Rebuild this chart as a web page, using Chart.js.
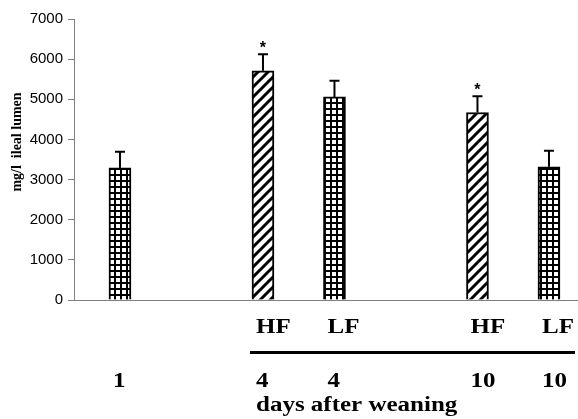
<!DOCTYPE html>
<html>
<head>
<meta charset="utf-8">
<script src="https://cdn.jsdelivr.net/npm/chart.js@4/dist/chart.umd.min.js"></script>
<style>
  html, body { margin: 0; padding: 0; background: #fff; }
  #wrap { width: 578px; height: 419px; }
</style>
</head>
<body>
<div id="wrap"><canvas id="ileum" width="578" height="419"></canvas></div>
<script>
// slots along the x axis (blank slots are the gaps between groups)
const days = ['1', '', '4', '4', '', '10', '10'];
const diets = ['', '', 'HF', 'LF', '', 'HF', 'LF'];
const means = [3290, null, 5710, 5060, null, 4670, 3320];
const sem = [400, null, 415, 400, null, 405, 400];
const signif = [false, false, true, false, false, true, false];
const yTicks = [0, 1000, 2000, 3000, 4000, 5000, 6000, 7000];
const xTitle = 'days after weaning';
const yTitle = 'mg/l  ileal lumen';

const SERIF = '"Liberation Serif", "Times New Roman", serif';
const STRETCH = 1.25;

// fill patterns: grid for LF / day 1, diagonal hatch for HF
function makeGrid() {
    const c = document.createElement('canvas');
    c.width = 6; c.height = 6;
    const g = c.getContext('2d');
    g.fillStyle = '#fff';
    g.fillRect(0, 0, 6, 6);
    g.fillStyle = '#000';
    g.fillRect(0, 0, 2, 6);
    g.fillRect(0, 0, 6, 2);
    return g.createPattern(c, 'repeat');
}

function makeHatch() {
    const c = document.createElement('canvas');
    c.width = 10; c.height = 10;
    const g = c.getContext('2d');
    g.fillStyle = '#fff';
    g.fillRect(0, 0, 10, 10);
    g.strokeStyle = '#000';
    g.lineWidth = 3;
    g.beginPath();
    g.moveTo(-5, 5); g.lineTo(5, -5);
    g.moveTo(0, 10); g.lineTo(10, 0);
    g.moveTo(5, 15); g.lineTo(15, 5);
    g.stroke();
    return g.createPattern(c, 'repeat');
}

const gridFill = makeGrid();
const hatchFill = makeHatch();

const points = [];
const fills = [];
means.forEach((v, i) => {
    if (v === null) return;
    points.push({ x: i, y: v, sem: sem[i], star: signif[i] });
    fills.push(diets[i] === 'HF' ? hatchFill : gridFill);
});

function stretchText(ctx, text, x, y) {
    ctx.save();
    ctx.translate(x, y);
    ctx.scale(STRETCH, 1);
    ctx.fillText(text, 0, 0);
    ctx.restore();
}

// error bars and significance stars
const errorBars = {
    id: 'errorBars',
    afterDatasetsDraw(chart) {
        const ctx = chart.ctx;
        const y = chart.scales.y;
        const meta = chart.getDatasetMeta(0);
        ctx.save();
        ctx.strokeStyle = '#000';
        ctx.lineWidth = 2;
        meta.data.forEach((bar, k) => {
            const p = points[k];
            const top = y.getPixelForValue(p.y + p.sem);
            ctx.beginPath();
            ctx.moveTo(bar.x, bar.y);
            ctx.lineTo(bar.x, top);
            ctx.moveTo(bar.x - 5, top);
            ctx.lineTo(bar.x + 5, top);
            ctx.stroke();
            if (p.star) {
                ctx.fillStyle = '#000';
                ctx.font = 'bold 16px "Liberation Sans", Arial, sans-serif';
                ctx.textAlign = 'center';
                ctx.textBaseline = 'alphabetic';
                ctx.fillText('*', bar.x, top - 1);
            }
        });
        ctx.restore();
    }
};

// group labels under the axis and the y title
const labelsBelow = {
    id: 'labelsBelow',
    afterDraw(chart) {
        const ctx = chart.ctx;
        const meta = chart.getDatasetMeta(0);
        const area = chart.chartArea;
        ctx.save();
        ctx.fillStyle = '#000';
        ctx.font = 'bold 20px ' + SERIF;
        ctx.textAlign = 'left';
        ctx.textBaseline = 'alphabetic';
        let firstLeft = null;
        meta.data.forEach((bar, k) => {
            const i = points[k].x;
            const left = bar.x - bar.width / 2 + 4;
            if (diets[i]) {
                stretchText(ctx, diets[i], left, 333);
                if (firstLeft === null) firstLeft = left;
            }
            stretchText(ctx, days[i], left, 387);
        });
        ctx.fillRect(firstLeft - 6, 351, area.right - 3 - (firstLeft - 6), 3);
        stretchText(ctx, xTitle, firstLeft, 411);

        ctx.translate(21, 142);
        ctx.rotate(-Math.PI / 2);
        ctx.font = 'bold 14px ' + SERIF;
        ctx.textAlign = 'center';
        ctx.fillText(yTitle, 0, 0);
        ctx.restore();
    }
};

const chart = new Chart(document.getElementById('ileum'), {
    type: 'bar',
    data: {
        datasets: [{
            data: points,
            backgroundColor: fills,
            borderColor: '#000',
            borderWidth: 2,
            borderSkipped: 'bottom',
            barThickness: 22
        }]
    },
    options: {
        responsive: false,
        animation: false,
        events: [],
        layout: { padding: { top: 19, bottom: 119, left: 0, right: 0 } },
        plugins: { legend: { display: false }, tooltip: { enabled: false } },
        scales: {
            x: {
                type: 'linear',
                offset: false,
                min: -0.643,
                max: 6.406,
                grid: { display: false },
                ticks: { display: false },
                border: { display: true, color: '#808080', width: 1 },
                afterFit(scale) { scale.height = 0; }
            },
            y: {
                min: 0,
                max: 7000,
                afterBuildTicks(scale) { scale.ticks = yTicks.map(v => ({ value: v })); },
                grid: { drawOnChartArea: false, drawTicks: true, tickLength: 6, color: '#808080' },
                border: { display: true, color: '#808080', width: 1 },
                ticks: {
                    padding: 5,
                    color: '#000',
                    font: { family: '"Liberation Sans", Arial, sans-serif', size: 15 },
                    callback: v => String(v)
                },
                afterFit(scale) { scale.width = 74; }
            }
        }
    },
    plugins: [errorBars, labelsBelow]
});
</script>
</body>
</html>
